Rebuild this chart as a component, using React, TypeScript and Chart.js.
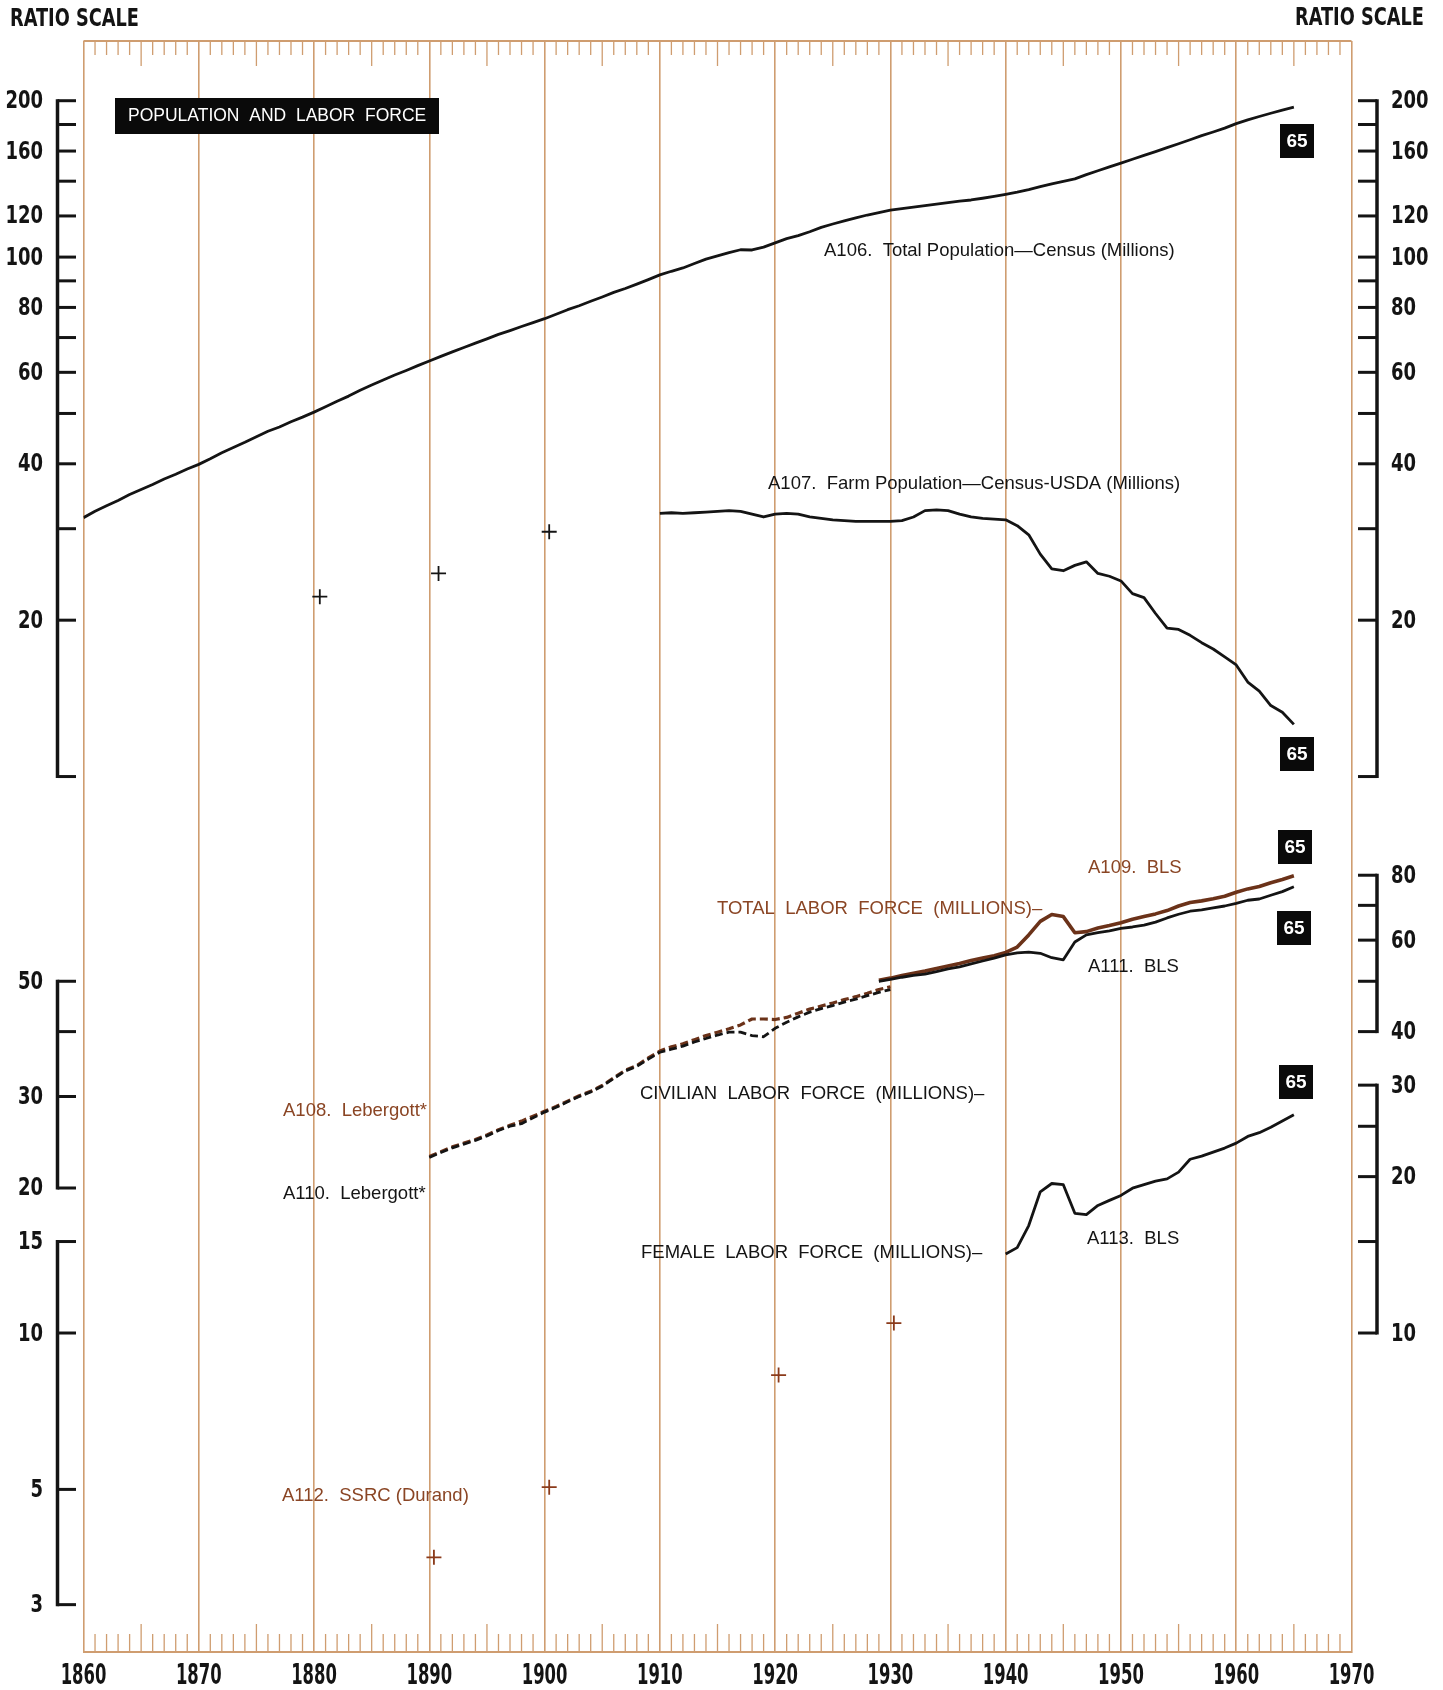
import React, { useEffect, useRef } from "react";
import { Chart, registerables } from "chart.js";

Chart.register(...registerables);

const W = 1443;
const H = 1690;

// ---------- DATA (millions) ----------
const TOTAL_POP_START = 1860;
const TOTAL_POPULATION = [
  31.5, 32.4, 33.2, 34.0, 34.9, 35.7, 36.5, 37.4, 38.2, 39.1,
  39.9, 40.9, 42.0, 43.0, 44.0, 45.1, 46.2, 47.1, 48.2, 49.2,
  50.3, 51.5, 52.8, 54.0, 55.4, 56.7, 58.0, 59.3, 60.5, 61.8,
  63.1, 64.4, 65.7, 67.0, 68.3, 69.6, 71.0, 72.2, 73.5, 74.8,
  76.1, 77.6, 79.2, 80.6, 82.2, 83.8, 85.5, 87.0, 88.7, 90.5,
  92.4, 93.9, 95.3, 97.2, 99.1, 100.5, 102.0, 103.3, 103.2, 104.5,
  106.5, 108.5, 110.0, 111.9, 114.1, 115.8, 117.4, 119.0, 120.5, 121.8,
  123.1, 124.0, 124.8, 125.6, 126.4, 127.3, 128.1, 128.8, 129.8, 130.9,
  132.1, 133.4, 134.9, 136.7, 138.4, 139.9, 141.4, 144.1, 146.6, 149.2,
  151.7, 154.3, 157.0, 159.6, 162.4, 165.3, 168.2, 171.3, 174.1, 177.1,
  180.7, 183.7, 186.5, 189.2, 191.9, 194.3,
];

const FARM_POP_START = 1910;
const FARM_POPULATION = [
  32.1, 32.2, 32.1, 32.2, 32.3, 32.4, 32.5, 32.4, 32.0, 31.6,
  32.0, 32.1, 32.0, 31.6, 31.4, 31.2, 31.1, 31.0, 31.0, 31.0,
  31.0, 31.1, 31.6, 32.5, 32.6, 32.5, 32.0, 31.6, 31.4, 31.3,
  31.2, 30.4, 29.2, 26.8, 25.1, 24.9, 25.5, 25.9, 24.6, 24.3,
  23.8, 22.5, 22.1, 20.6, 19.3, 19.2, 18.7, 18.1, 17.6, 17.0,
  16.4, 15.2, 14.6, 13.7, 13.3, 12.6,
];
const FARM_CENSUS_YEARS = [1880.5, 1890.8, 1900.4];
const FARM_CENSUS_VALUES = [22.2, 24.6, 29.6];

const LEBERGOTT_START = 1890;
const LEBERGOTT_TOTAL = [
  23.0, 23.5, 24.0, 24.4, 24.8, 25.3, 25.9, 26.4, 26.9, 27.5,
  28.1, 28.7, 29.4, 30.1, 30.7, 31.5, 32.6, 33.7, 34.4, 35.6,
  36.7, 37.4, 37.9, 38.6, 39.3, 39.9, 40.5, 41.2, 42.3, 42.3,
  42.2, 42.6, 43.4, 44.2, 44.8, 45.4, 46.1, 46.7, 47.4, 48.2,
  48.8,
];
const LEBERGOTT_CIVILIAN = [
  22.9, 23.4, 23.9, 24.3, 24.7, 25.2, 25.8, 26.3, 26.6, 27.3,
  28.0, 28.6, 29.3, 30.0, 30.6, 31.4, 32.5, 33.6, 34.3, 35.4,
  36.5, 37.0, 37.5, 38.2, 38.8, 39.4, 39.9, 39.9, 39.3, 39.1,
  40.6, 41.7, 42.7, 43.6, 44.3, 44.9, 45.6, 46.2, 46.9, 47.6,
  48.2,
];

const BLS_START = 1929;
const BLS_TOTAL = [
  50.2, 50.7, 51.3, 51.8, 52.3, 52.9, 53.5, 54.1, 54.8, 55.4,
  56.0, 56.8, 58.2, 61.4, 65.2, 67.2, 66.6, 62.0, 62.3, 63.3,
  64.0, 64.8, 65.8, 66.6, 67.4, 68.4, 69.8, 70.9, 71.4, 72.1,
  72.9, 74.2, 75.3, 76.1, 77.4, 78.5, 79.8,
];
const BLS_CIVILIAN = [
  50.0, 50.4, 50.9, 51.3, 51.6, 52.2, 52.8, 53.3, 54.0, 54.7,
  55.4, 56.2, 56.7, 56.9, 56.6, 55.5, 55.0, 59.5, 61.4, 62.0,
  62.5, 63.2, 63.6, 64.1, 65.0, 66.2, 67.3, 68.2, 68.6, 69.2,
  69.8, 70.6, 71.6, 72.0, 73.2, 74.4, 76.0,
];

const FEMALE_START = 1940;
const FEMALE_BLS = [
  14.2, 14.6, 16.1, 18.7, 19.4, 19.3, 17.0, 16.9, 17.6, 18.0,
  18.4, 19.0, 19.3, 19.6, 19.8, 20.4, 21.6, 21.9, 22.3, 22.7,
  23.2, 23.9, 24.3, 24.9, 25.6, 26.3,
];
const DURAND_YEARS = [1890.4, 1900.4, 1920.3, 1930.3];
const DURAND_VALUES = [3.7, 5.05, 8.3, 10.45];

// ---------- AXES ----------
const X_DECADES = [1860, 1870, 1880, 1890, 1900, 1910, 1920, 1930, 1940, 1950, 1960, 1970];
const POP_TICKS = [200, 180, 160, 140, 120, 100, 90, 80, 70, 60, 50, 40, 30, 20, 10];
const POP_LABELS = [200, 160, 120, 100, 80, 60, 40, 20];
const LEFT_LABOR_TICKS = [50, 40, 30, 20];
const LEFT_LABOR_LABELS = [50, 30, 20];
const LEFT_FEMALE_TICKS = [15, 10, 5, 3];
const LEFT_FEMALE_LABELS = [15, 10, 5, 3];
const RIGHT_LABOR_TICKS = [80, 70, 60, 50, 40];
const RIGHT_LABOR_LABELS = [80, 60, 40];
const RIGHT_FEMALE_TICKS = [30, 25, 20, 15, 10];
const RIGHT_FEMALE_LABELS = [30, 20, 10];

// ---------- STYLE ----------
const GRID = "#cf9d70";
const INK = "#141414";
const BROWN_LINE = "#6b3219";
const BROWN_TEXT = "#8a4524";
const NARROW = "'Liberation Sans Narrow', 'DejaVu Sans Condensed', 'Arial Narrow', sans-serif";
const SANS = "'Liberation Sans', Arial, sans-serif";

const LABELS = [
  { t: "A106.  Total Population\u2014Census (Millions)", x: 824, y: 251, c: INK },
  { t: "A107.  Farm Population\u2014Census-USDA (Millions)", x: 768, y: 484, c: INK },
  { t: "A109.  BLS", x: 1088, y: 868, c: BROWN_TEXT },
  { t: "TOTAL  LABOR  FORCE  (MILLIONS)\u2013", x: 717, y: 909, c: BROWN_TEXT },
  { t: "A111.  BLS", x: 1088, y: 967, c: INK },
  { t: "CIVILIAN  LABOR  FORCE  (MILLIONS)\u2013", x: 640, y: 1094, c: INK },
  { t: "A108.  Lebergott*", x: 283, y: 1111, c: BROWN_TEXT },
  { t: "A110.  Lebergott*", x: 283, y: 1194, c: INK },
  { t: "FEMALE  LABOR  FORCE  (MILLIONS)\u2013", x: 641, y: 1253, c: INK },
  { t: "A113.  BLS", x: 1087, y: 1239, c: INK },
  { t: "A112.  SSRC (Durand)", x: 282, y: 1496, c: BROWN_TEXT },
];

const BOXES = [
  { x: 1297, y: 141 },
  { x: 1297, y: 754 },
  { x: 1295, y: 847 },
  { x: 1294, y: 928 },
  { x: 1296, y: 1082 },
];

function series(start: number, vals: number[]) {
  return vals.map((v, i) => ({ x: start + i, y: v }));
}
function points(xs: number[], ys: number[]) {
  return xs.map((x, i) => ({ x, y: ys[i] }));
}

function text(
  ctx: CanvasRenderingContext2D,
  s: string,
  x: number,
  y: number,
  font: string,
  color: string,
  align: CanvasTextAlign = "left",
  sx = 1
) {
  ctx.save();
  ctx.font = font;
  ctx.fillStyle = color;
  ctx.textAlign = align;
  ctx.textBaseline = "middle";
  ctx.translate(x, y);
  ctx.scale(sx, 1);
  ctx.fillText(s, 0, 0);
  ctx.restore();
}

function seg(ctx: CanvasRenderingContext2D, x1: number, y1: number, x2: number, y2: number) {
  ctx.beginPath();
  ctx.moveTo(x1, y1);
  ctx.lineTo(x2, y2);
  ctx.stroke();
}

const decor = {
  id: "decor",
  afterDraw(chart: any) {
    const ctx: CanvasRenderingContext2D = chart.ctx;
    const xs = chart.scales.x;
    const { top, bottom, left, right } = chart.chartArea;
    ctx.save();

    // top frame + yearly ticks
    ctx.strokeStyle = GRID;
    ctx.lineWidth = 2;
    seg(ctx, left, top, right, top);
    ctx.lineWidth = 1.3;
    for (let yr = 1861; yr < 1970; yr++) {
      if (yr % 10 === 0) continue;
      const px = xs.getPixelForValue(yr);
      const major = yr % 5 === 0;
      seg(ctx, px, top, px, top + (major ? 25 : 14));
      seg(ctx, px, bottom, px, bottom - (major ? 28 : 18));
    }

    // x labels
    X_DECADES.forEach((d) => {
      text(ctx, String(d), xs.getPixelForValue(d), 1676, `bold 29px ${NARROW}`, INK, "center", 0.63);
    });

    // ratio scale brackets
    const brackets = [
      { axis: "yPop", side: "left", ticks: POP_TICKS, labels: POP_LABELS },
      { axis: "yLab", side: "left", ticks: LEFT_LABOR_TICKS, labels: LEFT_LABOR_LABELS },
      { axis: "yFem", side: "left", ticks: LEFT_FEMALE_TICKS, labels: LEFT_FEMALE_LABELS },
      { axis: "yPop", side: "right", ticks: POP_TICKS, labels: POP_LABELS },
      { axis: "yLab", side: "right", ticks: RIGHT_LABOR_TICKS, labels: RIGHT_LABOR_LABELS },
      { axis: "yFem", side: "right", ticks: RIGHT_FEMALE_TICKS, labels: RIGHT_FEMALE_LABELS },
    ];
    ctx.strokeStyle = INK;
    brackets.forEach((b) => {
      const sc = chart.scales[b.axis];
      const isLeft = b.side === "left";
      const vx = isLeft ? 57.5 : 1377;
      const tx = isLeft ? 76 : 1358;
      const ys = b.ticks.map((t) => sc.getPixelForValue(t));
      ctx.lineWidth = 3.5;
      seg(ctx, vx, Math.min(...ys) - 1.5, vx, Math.max(...ys) + 1.5);
      ctx.lineWidth = 3;
      ys.forEach((y) => seg(ctx, vx, y, tx, y));
      b.labels.forEach((l) => {
        const y = sc.getPixelForValue(l);
        if (isLeft) text(ctx, String(l), 43, y + 1, `bold 25px ${NARROW}`, INK, "right", 0.8);
        else text(ctx, String(l), 1391, y + 1, `bold 25px ${NARROW}`, INK, "left", 0.8);
      });
    });

    // headers
    text(ctx, "RATIO SCALE", 10, 19, `bold 25px ${NARROW}`, INK, "left", 0.79);
    text(ctx, "RATIO SCALE", 1424, 18, `bold 25px ${NARROW}`, INK, "right", 0.79);

    // title box
    ctx.fillStyle = "#0a0a0a";
    ctx.fillRect(115, 98, 324, 36);
    text(ctx, "POPULATION  AND  LABOR  FORCE", 128, 116.5, `17.5px ${SANS}`, "#ffffff", "left");

    // series labels
    LABELS.forEach((l) => text(ctx, l.t, l.x, l.y, `18.5px ${SANS}`, l.c, "left"));

    // 65 boxes
    BOXES.forEach((b) => {
      ctx.fillStyle = "#0a0a0a";
      ctx.fillRect(b.x - 17, b.y - 17, 34, 34);
      text(ctx, "65", b.x, b.y + 1, `bold 19px ${SANS}`, "#ffffff", "center");
    });

    ctx.restore();
  },
};

export default function App() {
  const ref = useRef<HTMLCanvasElement | null>(null);

  useEffect(() => {
    if (!ref.current) return;
    const line = (data: any[], axis: string, color: string, width: number, dash: number[] = []) => ({
      type: "line" as const,
      data,
      yAxisID: axis,
      borderColor: color,
      borderWidth: width,
      borderDash: dash,
      pointRadius: 0,
      fill: false,
      tension: 0,
    });
    const cross = (data: any[], axis: string, color: string) => ({
      type: "line" as const,
      data,
      yAxisID: axis,
      showLine: false,
      pointStyle: "cross",
      pointRadius: 7.5,
      pointBorderWidth: 1.8,
      pointBorderColor: color,
      borderColor: color,
      backgroundColor: color,
    });

    const chart = new Chart(ref.current, {
      type: "line",
      data: {
        datasets: [
          line(series(TOTAL_POP_START, TOTAL_POPULATION), "yPop", INK, 2.8),
          line(series(FARM_POP_START, FARM_POPULATION), "yPop", INK, 2.8),
          cross(points(FARM_CENSUS_YEARS, FARM_CENSUS_VALUES), "yPop", INK),
          line(series(BLS_START, BLS_CIVILIAN), "yLab", INK, 2.8),
          line(series(BLS_START, BLS_TOTAL), "yLab", BROWN_LINE, 3.6),
          line(series(LEBERGOTT_START, LEBERGOTT_CIVILIAN), "yLab", INK, 2.8, [8, 4]),
          line(series(LEBERGOTT_START, LEBERGOTT_TOTAL), "yLab", BROWN_LINE, 3.2, [8, 4]),
          line(series(FEMALE_START, FEMALE_BLS), "yFem", INK, 2.8),
          cross(points(DURAND_YEARS, DURAND_VALUES), "yFem", "#8a3a1a"),
        ] as any,
      },
      options: {
        animation: false,
        responsive: false,
        devicePixelRatio: 1,
        layout: { padding: { left: 83.5, right: 91.5, top: 41, bottom: 38 } },
        plugins: { legend: { display: false }, tooltip: { enabled: false } },
        elements: { line: { borderJoinStyle: "round", borderCapStyle: "butt" } },
        scales: {
          x: {
            type: "linear",
            min: 1860,
            max: 1970,
            afterFit: (s: any) => {
              s.height = 0;
            },
            ticks: { display: false, stepSize: 10 },
            grid: { color: GRID, lineWidth: 1.6, drawTicks: false },
            border: { display: true, color: GRID, width: 2 },
          },
          yPop: { type: "logarithmic", display: false, min: 0.2064, max: 260.6 },
          yLab: { type: "logarithmic", display: false, min: 2.5577, max: 3228 },
          yFem: { type: "logarithmic", display: false, min: 2.4321, max: 3069 },
        } as any,
      },
      plugins: [decor],
    });
    return () => chart.destroy();
  }, []);

  return (
    <div style={{ position: "absolute", left: 0, top: 0, width: W, height: H, background: "#ffffff" }}>
      <canvas ref={ref} width={W} height={H} style={{ display: "block", width: W, height: H }} />
    </div>
  );
}
